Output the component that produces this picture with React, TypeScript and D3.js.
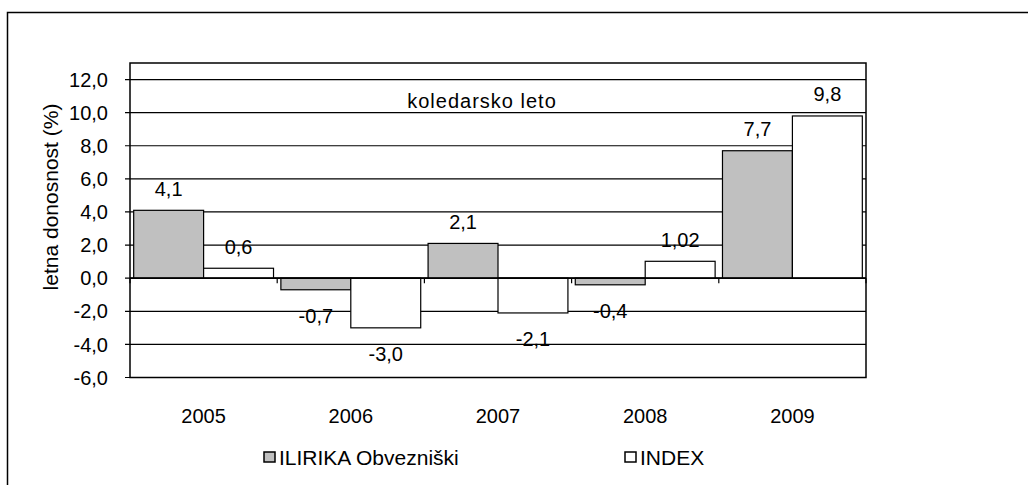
import React, { useEffect, useRef } from 'react';
import * as d3 from 'd3';

const years = ['2005', '2006', '2007', '2008', '2009'];
const seriesNames = ['ILIRIKA Obvezniški', 'INDEX'];
const ilirikaValues = [4.1, -0.7, 2.1, -0.4, 7.7];
const indexValues = [0.6, -3.0, -2.1, 1.02, 9.8];
const ilirikaLabels = ['4,1', '-0,7', '2,1', '-0,4', '7,7'];
const indexLabels = ['0,6', '-3,0', '-2,1', '1,02', '9,8'];
const yTicks = [-6, -4, -2, 0, 2, 4, 6, 8, 10, 12];

export default function App() {
  const svgRef = useRef<SVGSVGElement | null>(null);

  useEffect(() => {
    const width = 1028;
    const height = 485;
    const font = '"Liberation Sans", Arial, sans-serif';
    const plot = { left: 130, right: 866, top: 63, bottom: 377.5 };

    const svg = d3.select(svgRef.current).attr('width', width).attr('height', height);
    svg.selectAll('*').remove();

    // outer chart frame, runs off the picture on the right and bottom
    svg.append('rect')
      .attr('x', 7.5).attr('y', 12.5)
      .attr('width', 1100).attr('height', 600)
      .attr('fill', '#fff').attr('stroke', '#000').attr('stroke-width', 1.5);

    const y = d3.scaleLinear().domain([-6, 13]).range([plot.bottom, plot.top]);
    const x0 = d3.scaleBand().domain(years).range([plot.left, plot.right])
      .paddingInner(0.05).paddingOuter(0.025);
    const x1 = d3.scaleBand().domain(seriesNames).range([0, x0.bandwidth()]);
    const color = d3.scaleOrdinal<string, string>().domain(seriesNames).range(['#c0c0c0', '#ffffff']);

    const rows = years.map((yr, i) => ({
      year: yr,
      bars: [
        { name: seriesNames[0], value: ilirikaValues[i], label: ilirikaLabels[i] },
        { name: seriesNames[1], value: indexValues[i], label: indexLabels[i] }
      ]
    }));

    const fmt = (v: number) => v.toFixed(1).replace('.', ',');

    // gridlines
    svg.append('g')
      .selectAll('line')
      .data(yTicks)
      .enter()
      .append('line')
      .attr('x1', plot.left - 5).attr('x2', plot.right)
      .attr('y1', d => y(d)).attr('y2', d => y(d))
      .attr('stroke', '#000').attr('stroke-width', 1.2);

    // plot frame
    svg.append('rect')
      .attr('x', plot.left).attr('y', plot.top)
      .attr('width', plot.right - plot.left).attr('height', plot.bottom - plot.top)
      .attr('fill', 'none').attr('stroke', '#000').attr('stroke-width', 1.5);

    // y tick labels
    svg.append('g')
      .selectAll('text')
      .data(yTicks)
      .enter()
      .append('text')
      .attr('x', 108).attr('y', d => y(d))
      .attr('dy', '0.36em')
      .attr('text-anchor', 'end')
      .style('font-family', font).style('font-size', '20px')
      .text(d => fmt(d));

    // bars
    const groups = svg.append('g')
      .selectAll('g')
      .data(rows)
      .enter()
      .append('g')
      .attr('transform', d => `translate(${x0(d.year)},0)`);

    groups.selectAll('rect')
      .data(d => d.bars)
      .enter()
      .append('rect')
      .attr('x', d => x1(d.name)!)
      .attr('width', x1.bandwidth())
      .attr('y', d => y(Math.max(0, d.value)))
      .attr('height', d => Math.abs(y(d.value) - y(0)))
      .attr('fill', d => color(d.name))
      .attr('stroke', '#000').attr('stroke-width', 1.2);

    groups.selectAll('text')
      .data(d => d.bars)
      .enter()
      .append('text')
      .attr('x', d => x1(d.name)! + x1.bandwidth() / 2)
      .attr('y', d => (d.value >= 0 ? y(d.value) - 14.5 : y(d.value) + 33.5))
      .attr('text-anchor', 'middle')
      .style('font-family', font).style('font-size', '20px')
      .text(d => d.label);

    // zero axis with category ticks
    svg.append('line')
      .attr('x1', plot.left).attr('x2', plot.right)
      .attr('y1', y(0)).attr('y2', y(0))
      .attr('stroke', '#000').attr('stroke-width', 1.8);

    const boundaries = years.map(yr => x0(yr)! - (x0.step() - x0.bandwidth()) / 2).concat([plot.right]);
    svg.append('g')
      .selectAll('line')
      .data(boundaries)
      .enter()
      .append('line')
      .attr('x1', d => d).attr('x2', d => d)
      .attr('y1', y(0)).attr('y2', y(0) + 5)
      .attr('stroke', '#000').attr('stroke-width', 1.2);

    // year labels
    svg.append('g')
      .selectAll('text')
      .data(years)
      .enter()
      .append('text')
      .attr('x', d => x0(d)! + x0.bandwidth() / 2)
      .attr('y', 423)
      .attr('text-anchor', 'middle')
      .style('font-family', font).style('font-size', '20px')
      .text(d => d);

    // y axis title
    svg.append('text')
      .attr('transform', 'translate(51,197) rotate(-90)')
      .attr('dy', '0.35em')
      .attr('text-anchor', 'middle')
      .style('font-family', font).style('font-size', '21px')
      .text('letna donosnost (%)');

    // annotation
    svg.append('text')
      .attr('x', 482).attr('y', 101)
      .attr('dy', '0.35em')
      .attr('text-anchor', 'middle')
      .style('font-family', font).style('font-size', '20px')
      .style('letter-spacing', '1px')
      .text('koledarsko leto');

    // legend
    const legendX = [264, 625];
    const legend = svg.append('g')
      .selectAll('g')
      .data(seriesNames)
      .enter()
      .append('g')
      .attr('transform', (d, i) => `translate(${legendX[i]},452)`);

    legend.append('rect')
      .attr('width', 11).attr('height', 10)
      .attr('fill', d => color(d))
      .attr('stroke', '#000').attr('stroke-width', 1.5);

    legend.append('text')
      .attr('x', 15).attr('y', 13)
      .style('font-family', font).style('font-size', '21px')
      .text(d => d);
  }, []);

  return (
    <svg ref={svgRef} style={{ position: 'absolute', left: 0, top: 0, display: 'block' }} />
  );
}
